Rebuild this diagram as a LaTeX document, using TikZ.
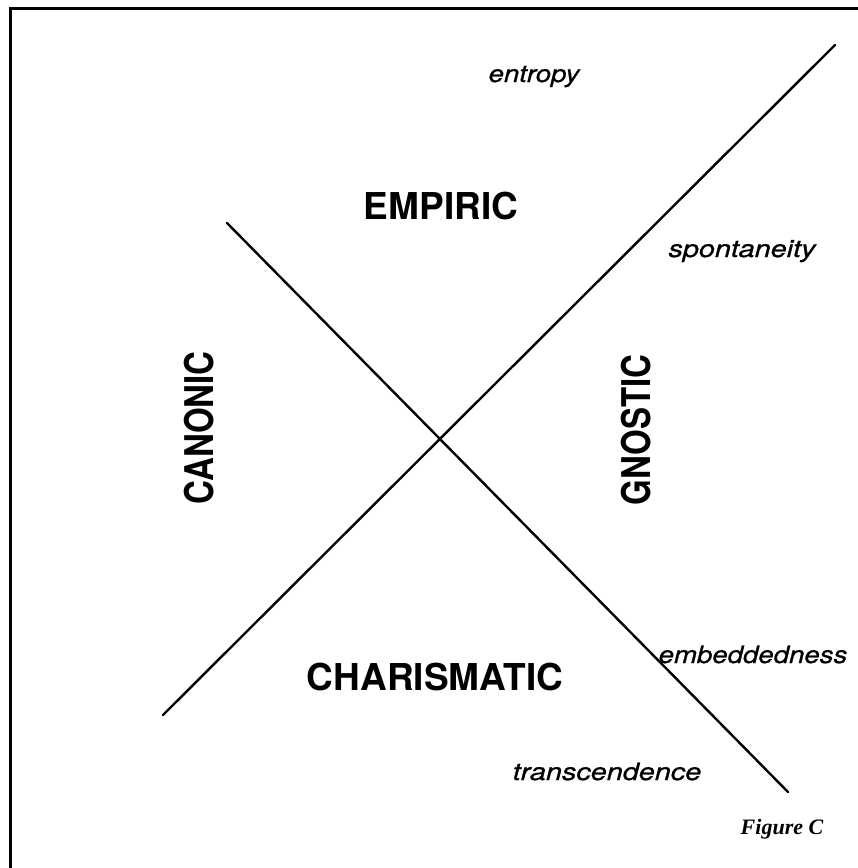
\documentclass[tikz,border=0pt]{standalone}
\usepackage{fontspec}
\setmainfont{TeX Gyre Heros}
\newfontfamily\figfont{Liberation Serif}
\begin{document}
\begin{tikzpicture}[x=1pt,y=-1pt,
  bigword/.style={inner sep=0pt, anchor=base, font=\fontsize{37}{37}\selectfont\bfseries},
  sideword/.style={inner sep=0pt, rotate=90, font=\fontsize{33}{33}\selectfont\bfseries},
  smallword/.style={inner sep=0pt, anchor=base, font=\fontsize{24}{24}\selectfont\itshape\addfontfeature{FakeBold=0.8}},
  axisline/.style={line width=2.4pt, line cap=round},
  framelines/.style={line width=3.5pt}]
\useasboundingbox (0,0) rectangle (858,868);
\draw[framelines] (10.5,868) -- (10.5,8.5) -- (858,8.5);
\coordinate (a1) at (163,715);
\coordinate (a2) at (835,45);
\coordinate (b1) at (227,223);
\coordinate (b2) at (788,792);
\draw[axisline] (a1) -- (a2);
\draw[axisline] (b1) -- (b2);
\node[bigword] (empiric) at (441,219) {EMPIRIC};
\node[bigword] (charis) at (435,690) {CHARISMATIC};
\node[sideword] (canonic) at (199,428) {\scalebox{1}[1.2]{CANONIC}};
\node[sideword] (gnostic) at (636,430) {\scalebox{1}[1.2]{GNOSTIC}};
\node[smallword] (entropy) at (534,82) {\scalebox{1.15}[1]{entropy}};
\node[smallword] (spont) at (742,257) {\scalebox{1.2}[1]{spontaneity}};
\node[smallword] (embed) at (753,663) {\scalebox{1.15}[1]{embeddedness}};
\node[smallword] (trans) at (607,780) {\scalebox{1.2}[1]{transcendence}};
\node[inner sep=0pt, anchor=base, font=\fontsize{22}{22}\selectfont\figfont\bfseries\itshape] (fig) at (782,834) {Figure C};
\end{tikzpicture}
\end{document}
